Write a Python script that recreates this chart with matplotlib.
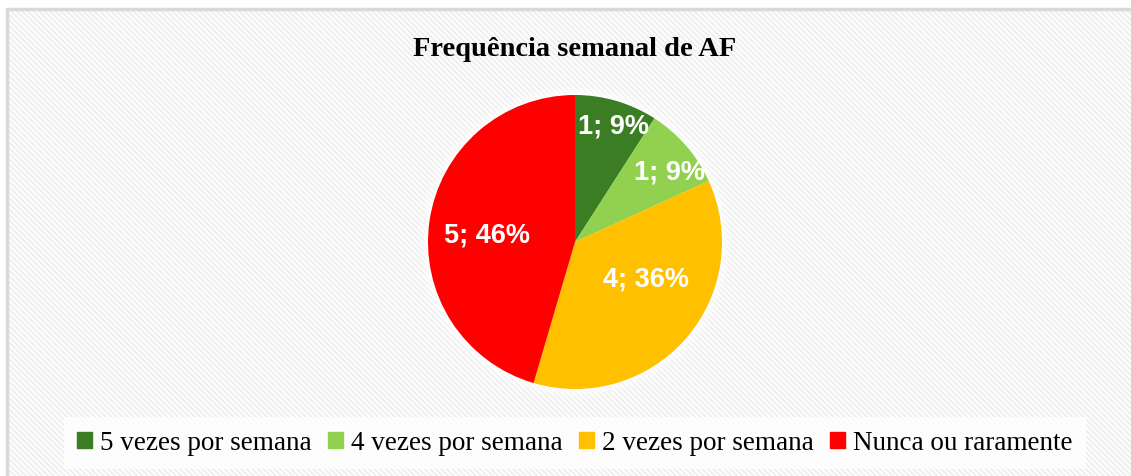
import matplotlib
matplotlib.use("Agg")
import matplotlib.pyplot as plt
import matplotlib.patches as mpatches

# data
categorias = ["5 vezes por semana", "4 vezes por semana", "2 vezes por semana", "Nunca ou raramente"]
valores = [1, 1, 4, 5]
rotulos = ["1; 9%", "1; 9%", "4; 36%", "5; 46%"]
cores = ["#3B7D23", "#92D050", "#FFC000", "#FF0000"]
titulo = "Frequência semanal de AF"

W, H = 1131, 477
fig = plt.figure(figsize=(W / 100, H / 100), dpi=100)

# fundo com riscas diagonais
plt.rcParams["hatch.linewidth"] = 1.5
bg = mpatches.Rectangle((7 / W, 0), 1.2, 1 - 10 / H, transform=fig.transFigure,
                        facecolor="white", edgecolor="#efefef", hatch="\\" * 6,
                        linewidth=0, zorder=-3)
fig.patches.append(bg)
borda = mpatches.Rectangle((7 / W, -0.05), 1.2, 1.05 - 10 / H, transform=fig.transFigure,
                           facecolor="none", edgecolor="#d9d9d9", linewidth=2.5, zorder=-2)
fig.patches.append(borda)

# pie
cx, cy, r = 575, 243, 147
ax = fig.add_axes([(cx - 1.1 * r) / W, (H - cy - 1.1 * r) / H, 2.2 * r / W, 2.2 * r / H])
# leve sombra/brilho a volta do circulo
for rr, a in [(1.06, 0.25), (1.035, 0.35), (1.015, 0.5)]:
    ax.add_patch(mpatches.Circle((0, 0), rr, facecolor="white", alpha=a, linewidth=0, zorder=0))
wedges, _ = ax.pie(valores, colors=cores, startangle=90, counterclock=False,
                   wedgeprops=dict(linewidth=0))
ax.set_xlim(-1.1, 1.1)
ax.set_ylim(-1.1, 1.1)
ax.set_aspect("equal")

# posicao dos rotulos (em raios), como o Excel os coloca
pos_rotulos = [(0.26, 0.79), (0.64, 0.48), (0.48, -0.25), (-0.60, 0.05)]
for lab, (lx, ly) in zip(rotulos, pos_rotulos):
    ax.text(lx, ly, lab, ha="center", va="center",
            color="white", fontsize=19.5, family="Liberation Sans", fontweight="bold")

fig.text(575 / W, 1 - 50 / H, titulo, ha="center", va="center",
         fontsize=20.5, fontweight="bold", family="Liberation Serif")

handles = [mpatches.Patch(color=c) for c in cores]
leg = fig.legend(handles, categorias, loc="center", bbox_to_anchor=(575 / W, 1 - 444 / H),
                 ncol=4, frameon=True, fancybox=False, handlelength=0.55, handleheight=0.55,
                 handletextpad=0.3, columnspacing=0.6, borderpad=0.5,
                 prop=dict(family="Liberation Serif", size=19.5))
leg.get_frame().set_facecolor("white")
leg.get_frame().set_edgecolor("none")
leg.get_frame().set_alpha(0.8)

fig.savefig("out.png", dpi=100)
